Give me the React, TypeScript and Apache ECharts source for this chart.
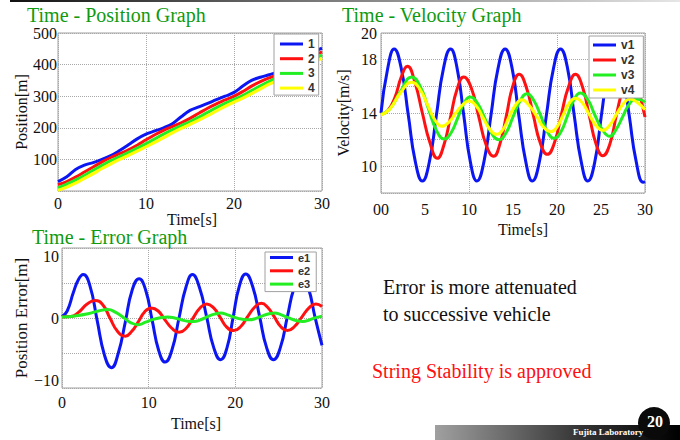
import React, { useEffect, useRef } from 'react';
import * as echarts from 'echarts';

// ---------- Time - Position data ----------
const posTime = [0, 1, 2, 3, 4, 5, 6, 7, 8, 9, 10, 11, 12, 13, 14, 15, 16, 17, 18, 19, 20, 21, 22, 23, 24, 25, 26, 27, 28, 29, 30];
const pos1 = [30, 45, 68, 82, 90, 100, 112, 128, 146, 165, 180, 190, 200, 213, 235, 255, 266, 277, 289, 300, 312, 332, 350, 360, 368, 377, 392, 410, 428, 440, 452];
const pos2 = [20, 30, 44, 60, 76, 92, 106, 118, 130, 145, 162, 178, 192, 204, 216, 230, 246, 262, 276, 288, 300, 315, 332, 346, 358, 368, 382, 398, 414, 428, 440];
const pos3 = [10, 22, 35, 50, 66, 81, 96, 109, 122, 136, 150, 165, 180, 194, 207, 220, 234, 249, 264, 278, 290, 303, 318, 333, 347, 360, 373, 387, 402, 417, 430];
const pos4 = [2, 12, 25, 40, 55, 71, 86, 100, 113, 126, 140, 154, 169, 184, 198, 211, 224, 238, 253, 268, 281, 294, 308, 323, 338, 351, 364, 378, 393, 408, 420];
const posNames = ['1', '2', '3', '4'];

// ---------- Time - Velocity data [t, v] ----------
const vel1 = [[0, 14.0], [0.75, 17.3], [1.5, 18.8], [2.3, 17.35], [3.1, 13.85], [3.9, 10.35], [4.7, 8.9],
  [5.5, 10.35], [6.3, 13.85], [7.1, 17.35], [7.9, 18.8], [8.65, 17.35], [9.4, 13.85], [10.15, 10.35], [10.9, 8.9],
  [11.7, 10.35], [12.5, 13.85], [13.3, 17.35], [14.1, 18.8], [14.9, 17.35], [15.65, 13.85], [16.45, 10.35], [17.2, 8.9],
  [18, 10.35], [18.8, 13.85], [19.6, 17.35], [20.4, 18.8], [21.2, 17.35], [21.95, 13.85], [22.75, 10.35], [23.5, 8.9],
  [24.3, 10.35], [25.05, 13.85], [25.85, 17.35], [26.6, 18.8], [27.4, 17.35], [28.2, 13.85], [29, 10.35], [29.8, 8.8], [30, 8.85]];
const vel2 = [[0, 13.9], [0.8, 14.2], [1.6, 15.2], [2.3, 16.7], [3, 17.5], [3.85, 16.3], [4.7, 14.0], [5.55, 11.8], [6.4, 10.6],
  [7.15, 11.6], [7.9, 13.7], [8.65, 15.8], [9.4, 16.7], [10.25, 15.9], [11.1, 13.75], [11.95, 11.6], [12.8, 10.75],
  [13.5, 11.65], [14.25, 13.8], [14.95, 15.95], [15.7, 16.9], [16.5, 15.95], [17.3, 13.85], [18.1, 11.75], [18.9, 10.9],
  [19.7, 11.75], [20.5, 13.9], [21.3, 15.95], [22.1, 16.9], [22.9, 15.95], [23.65, 13.85], [24.45, 11.65], [25.2, 10.8],
  [26, 11.65], [26.75, 13.85], [27.55, 15.95], [28.3, 16.9], [29.1, 15.95], [30, 13.7]];
const vel3 = [[0, 13.9], [1, 14.3], [2.2, 15.6], [3.5, 16.7], [4.45, 16.0], [5.35, 14.4], [6.3, 12.7], [7.2, 12.05],
  [7.95, 12.5], [8.7, 13.6], [9.4, 14.7], [10.15, 15.2], [10.95, 14.75], [11.8, 13.6], [12.6, 12.45], [13.4, 12.0],
  [14.2, 12.5], [15, 13.7], [15.8, 14.9], [16.6, 15.45], [17.35, 14.95], [18.15, 13.8], [18.9, 12.6], [19.7, 12.1],
  [20.45, 12.6], [21.2, 13.8], [21.9, 14.95], [22.65, 15.5], [23.5, 15.0], [24.3, 13.85], [25.15, 12.75], [26.0, 12.25],
  [26.7, 12.75], [27.45, 13.7], [28.15, 14.6], [28.9, 15.05], [29.5, 15.0], [30, 14.8]];
const vel4 = [[0, 13.85], [1, 14.3], [2.2, 15.5], [3.5, 16.3], [4.4, 15.8], [5.3, 14.6], [6.1, 13.5], [6.9, 13.0],
  [7.7, 13.3], [8.5, 14.0], [9.25, 14.6], [10, 14.9], [10.8, 14.55], [11.55, 13.7], [12.35, 12.8], [13.1, 12.4],
  [13.85, 12.75], [14.55, 13.7], [15.3, 14.6], [16, 15.0], [16.8, 14.6], [17.65, 13.8], [18.45, 12.95], [19.3, 12.6],
  [20, 12.95], [20.7, 13.85], [21.4, 14.75], [22.1, 15.1], [22.9, 14.75], [23.65, 13.9], [24.45, 13.05], [25.2, 12.7],
  [25.95, 13.05], [26.75, 13.9], [27.55, 14.7], [28.3, 15.05], [29.1, 14.8], [30, 14.25]];
const velNames = ['v1', 'v2', 'v3', 'v4'];
const velYLabels = [20, 18, 14, 10];

// ---------- Time - Error data [t, e] ----------
const err1 = [[0, 0.2], [0.6, 1.0], [1.3, 3.6], [1.9, 5.5], [2.45, 6.2], [3.2, 4.7], [4.05, -0.3], [4.9, -5.3], [5.7, -7.1],
  [6.5, -5.0], [7.3, -0.6], [8.1, 4.0], [8.9, 5.6], [9.65, 4.0], [10.4, -0.3], [11.15, -4.6], [11.9, -6.3],
  [12.7, -4.5], [13.5, 0.0], [14.3, 4.4], [15.05, 6.2], [15.85, 4.4], [16.7, 0.1], [17.5, -4.2], [18.3, -5.95],
  [19.05, -4.2], [19.75, 0.15], [20.45, 4.5], [21.2, 6.3], [22, 4.5], [22.8, 0.2], [23.6, -4.2], [24.4, -5.95],
  [25.2, -4.2], [26, 0.15], [26.8, 4.4], [27.6, 6.2], [28.4, 4.4], [29.2, 0.1], [30, -3.9]];
const err2 = [[0, 0.15], [1, 0.2], [1.9, 0.8], [2.9, 2.0], [3.8, 2.5], [4.7, 1.9], [5.55, -0.05], [6.4, -1.9], [7.3, -2.6],
  [8.05, -1.9], [8.8, -0.55], [9.55, 0.9], [10.3, 1.43], [11.1, 1.0], [11.9, -0.3], [12.7, -1.5], [13.5, -2.05],
  [14.3, -1.5], [15.1, -0.05], [15.9, 1.4], [16.7, 2.0], [17.5, 1.45], [18.25, 0.1], [19.0, -1.3], [19.8, -1.8],
  [20.6, -1.25], [21.4, 0.15], [22.2, 1.5], [23, 2.1], [23.75, 1.5], [24.5, 0.15], [25.25, -1.25], [26, -1.8],
  [26.8, -1.25], [27.65, 0.1], [28.5, 1.45], [29.3, 2.0], [30, 1.65]];
const err3 = [[0, 0.15], [1.5, 0.3], [3, 0.6], [4.2, 1.0], [5.3, 1.2], [6.2, 0.8], [7.05, 0.1], [7.9, -0.65], [8.8, -0.95],
  [9.65, -0.6], [10.5, -0.2], [11.35, 0.05], [12.2, 0.15], [13, 0.0], [13.75, -0.25], [14.5, -0.45], [15.2, -0.5],
  [16.0, -0.25], [16.8, 0.2], [17.6, 0.55], [18.3, 0.7], [19.1, 0.45], [19.9, 0.1], [20.7, -0.15], [21.6, -0.25],
  [22.4, -0.05], [23.2, 0.35], [23.9, 0.6], [24.5, 0.7], [25.3, 0.45], [26.1, 0.05], [27, -0.35], [27.8, -0.5],
  [28.6, -0.25], [29.3, 0.05], [30, 0.25]];
const errNames = ['e1', 'e2', 'e3'];
const errYLabels = [10, 0, -10];

const lineColors = ['#0b16f2', '#ff1111', '#22ee22', '#ffff00'];

const SERIF = "'Liberation Serif', 'Times New Roman', serif";
const SANS = "'Liberation Sans', Arial, sans-serif";
const TITLE_GREEN = '#109a10';

function buildOption() {
  const axisLabelStyle = { fontFamily: SERIF, fontSize: 16, color: '#111' };
  const splitLine = { show: true, lineStyle: { type: 'dotted' as const, color: '#a8a8a8', width: 1 } };
  const nameStyle = { fontFamily: SERIF, fontSize: 16, color: '#111' };
  const hiddenAxisBits = { axisLine: { show: false }, axisTick: { show: false } };

  const lineSeries = (name: string, data: any, color: string, xi: number, yi: number, smooth: number | boolean) => ({
    type: 'line', name, data, xAxisIndex: xi, yAxisIndex: yi,
    symbol: 'none', showSymbol: false, smooth,
    lineStyle: { width: 3, color }, itemStyle: { color },
  });

  const legendBase = {
    orient: 'vertical' as const,
    backgroundColor: '#ffffff',
    borderColor: '#a0a0a0',
    borderWidth: 1,
    borderRadius: 0,
    icon: 'rect',
    itemWidth: 23,
    itemHeight: 3,
    textStyle: { fontFamily: SANS, fontSize: 12, fontWeight: 'bold' as const, color: '#333' },
    z: 10,
  };

  return {
    animation: false,
    backgroundColor: '#ffffff',
    grid: [
      { left: 58, top: 33, width: 264, height: 158, show: true, borderColor: '#a0a0a0', borderWidth: 1, backgroundColor: 'transparent' },
      { left: 381, top: 33, width: 264, height: 160, show: true, borderColor: '#a0a0a0', borderWidth: 1, backgroundColor: 'transparent' },
      { left: 62, top: 248, width: 260, height: 140, show: true, borderColor: '#a0a0a0', borderWidth: 1, backgroundColor: 'transparent' },
    ],
    xAxis: [
      {
        gridIndex: 0, type: 'value', min: 0, max: 30, interval: 10, ...hiddenAxisBits,
        axisLabel: { ...axisLabelStyle, margin: 4 }, splitLine,
        name: 'Time[s]', nameLocation: 'middle', nameGap: 12, nameTextStyle: { ...nameStyle, padding: [0, 0, 0, 4] },
      },
      {
        gridIndex: 1, type: 'value', min: 0, max: 30, interval: 5, ...hiddenAxisBits,
        axisLabel: { ...axisLabelStyle, margin: 8, formatter: (v: number) => (v === 0 ? '00' : String(v)) },
        splitLine: { show: false },
        name: 'Time[s]', nameLocation: 'middle', nameGap: 28, nameTextStyle: { ...nameStyle, padding: [0, 0, 0, 20] },
      },
      {
        gridIndex: 2, type: 'value', min: 0, max: 30, interval: 10, ...hiddenAxisBits,
        axisLabel: { ...axisLabelStyle, margin: 6 }, splitLine,
        name: 'Time[s]', nameLocation: 'middle', nameGap: 27, nameTextStyle: { ...nameStyle, padding: [0, 0, 0, 8] },
      },
      {
        gridIndex: 1, type: 'value', min: 0, max: 30, interval: 10, position: 'top', ...hiddenAxisBits,
        axisLabel: { show: false }, splitLine,
      },
    ],
    yAxis: [
      {
        gridIndex: 0, type: 'value', min: 0, max: 500, interval: 100, ...hiddenAxisBits,
        axisLabel: { ...axisLabelStyle, margin: 1, formatter: (v: number) => (v === 0 ? '' : String(v)) }, splitLine,
        name: 'Position[m]', nameLocation: 'middle', nameGap: 29, nameTextStyle: nameStyle,
      },
      {
        gridIndex: 1, type: 'value', min: 8, max: 20, interval: 2, ...hiddenAxisBits,
        axisLabel: { ...axisLabelStyle, margin: 4, formatter: (v: number) => (velYLabels.includes(v) ? String(v) : '') }, splitLine,
        name: 'Velocity[m/s]', nameLocation: 'middle', nameGap: 30, nameTextStyle: nameStyle,
      },
      {
        gridIndex: 2, type: 'value', min: -10, max: 10, interval: 5, ...hiddenAxisBits,
        axisLabel: {
          ...axisLabelStyle, margin: 3,
          verticalAlignMaxLabel: 'top',
          verticalAlignMinLabel: 'bottom',
          formatter: (v: number) => (errYLabels.includes(v) ? (v < 0 ? '\u2212' + Math.abs(v) : String(v)) : ''),
        },
        splitLine,
        name: 'Position Error[m]', nameLocation: 'middle', nameGap: 31, nameTextStyle: { ...nameStyle, fontSize: 17 },
      },
    ],
    legend: [
      { ...legendBase, data: posNames, left: 274, top: 34, itemGap: 2.7, padding: [4, 4, 1, 6] },
      { ...legendBase, data: velNames, left: 589, top: 36, itemGap: 3, padding: [3, 9, 2, 4] },
      {
        ...legendBase, data: errNames, left: 265, top: 252, itemGap: 2.3, padding: [0, 6, 2, 5],
        textStyle: { ...legendBase.textStyle, fontSize: 11 },
      },
    ],
    series: [
      lineSeries(posNames[0], posTime.map((t, i) => [t, pos1[i]]), lineColors[0], 0, 0, 0.4),
      lineSeries(posNames[1], posTime.map((t, i) => [t, pos2[i]]), lineColors[1], 0, 0, 0.4),
      lineSeries(posNames[2], posTime.map((t, i) => [t, pos3[i]]), lineColors[2], 0, 0, 0.4),
      lineSeries(posNames[3], posTime.map((t, i) => [t, pos4[i]]), lineColors[3], 0, 0, 0.4),
      lineSeries(velNames[0], vel1, lineColors[0], 1, 1, true),
      lineSeries(velNames[1], vel2, lineColors[1], 1, 1, true),
      lineSeries(velNames[2], vel3, lineColors[2], 1, 1, true),
      lineSeries(velNames[3], vel4, lineColors[3], 1, 1, true),
      lineSeries(errNames[0], err1, lineColors[0], 2, 2, true),
      lineSeries(errNames[1], err2, lineColors[1], 2, 2, true),
      lineSeries(errNames[2], err3, lineColors[2], 2, 2, true),
    ],
    graphic: [
      {
        type: 'rect', shape: { x: 10, y: 0, width: 670, height: 2 },
        style: {
          fill: new echarts.graphic.LinearGradient(0, 0, 1, 0, [
            { offset: 0, color: '#111111' }, { offset: 0.45, color: '#777777' }, { offset: 1, color: '#e6e6e6' },
          ]),
        },
      },
      { type: 'text', x: 27, y: 15, style: { text: 'Time - Position Graph', fontFamily: SERIF, fontSize: 20, fill: TITLE_GREEN, verticalAlign: 'middle' } },
      { type: 'text', x: 342, y: 15, style: { text: 'Time - Velocity Graph', fontFamily: SERIF, fontSize: 20, fill: TITLE_GREEN, verticalAlign: 'middle' } },
      { type: 'text', x: 32, y: 237, style: { text: 'Time - Error Graph', fontFamily: SERIF, fontSize: 20, fill: TITLE_GREEN, verticalAlign: 'middle' } },
      { type: 'text', x: 383, y: 287, style: { text: 'Error is more attenuated', fontFamily: SERIF, fontSize: 20, fill: '#111', verticalAlign: 'middle' } },
      { type: 'text', x: 383, y: 314, style: { text: 'to successive vehicle', fontFamily: SERIF, fontSize: 20, fill: '#111', verticalAlign: 'middle' } },
      { type: 'text', x: 372, y: 371, style: { text: 'String Stability is approved', fontFamily: SERIF, fontSize: 20, fill: '#ff1010', verticalAlign: 'middle' } },
      {
        type: 'rect', shape: { x: 435, y: 425, width: 245, height: 15 },
        style: {
          fill: new echarts.graphic.LinearGradient(0, 0, 1, 0, [
            { offset: 0, color: '#a0a0a0' }, { offset: 0.6, color: '#333333' }, { offset: 1, color: '#000000' },
          ]),
        },
      },
      { type: 'circle', shape: { cx: 654, cy: 423, r: 16 }, style: { fill: '#0a0a0a' } },
      { type: 'text', x: 655, y: 421, style: { text: '20', fontFamily: SERIF, fontSize: 16, fontWeight: 'bold', fill: '#ffffff', align: 'center', verticalAlign: 'middle' } },
      { type: 'text', x: 573, y: 432, style: { text: 'Fujita Laboratory', fontFamily: SERIF, fontSize: 9, fontWeight: 'bold', fill: '#ffffff', verticalAlign: 'middle' } },
    ],
  };
}

export default function App() {
  const ref = useRef<HTMLDivElement>(null);
  useEffect(() => {
    if (!ref.current) return;
    const chart = echarts.init(ref.current, undefined, { renderer: 'svg' });
    chart.setOption(buildOption() as any);
    return () => chart.dispose();
  }, []);
  return (
    <div
      ref={ref}
      style={{ position: 'fixed', left: 0, top: 0, width: 680, height: 440, background: '#ffffff' }}
    />
  );
}
